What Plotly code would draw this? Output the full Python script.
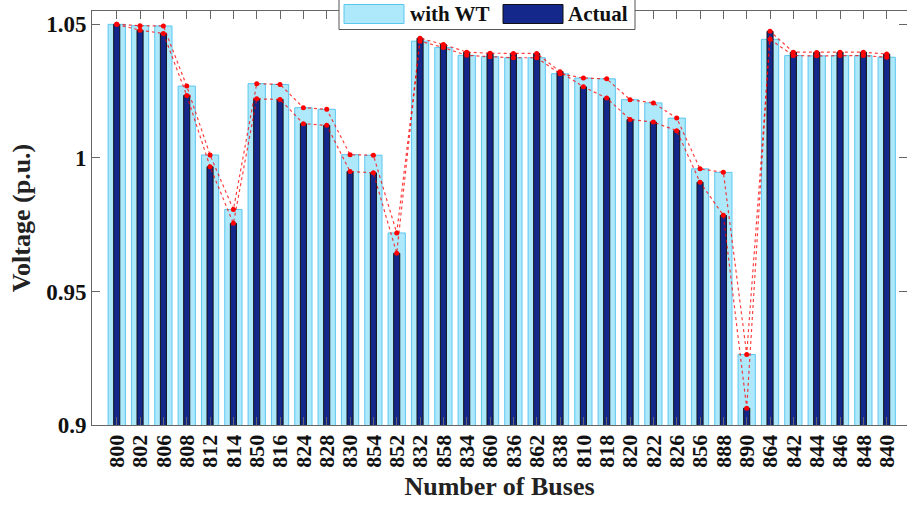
import plotly.graph_objects as go

# IEEE 34-bus feeder: bus voltages (p.u.) with and without the wind turbine
buses = ['800', '802', '806', '808', '812', '814', '850', '816', '824', '828',
         '830', '854', '852', '832', '858', '834', '860', '836', '862', '838',
         '810', '818', '820', '822', '826', '856', '888', '890', '864', '842',
         '844', '846', '848', '840']

with_wt = [1.0500, 1.0495, 1.0494, 1.0269, 1.0011, 0.9807, 1.0278, 1.0275, 1.0188, 1.0182,
           1.0012, 1.0010, 0.9719, 1.0437, 1.0413, 1.0384, 1.0379, 1.0375, 1.0375, 1.0315,
           1.0299, 1.0296, 1.0218, 1.0206, 1.0149, 0.9959, 0.9946, 0.9264, 1.0444, 1.0383,
           1.0382, 1.0383, 1.0383, 1.0377]

actual = [1.0500, 1.0478, 1.0466, 1.0234, 0.9967, 0.9755, 1.0221, 1.0219, 1.0128, 1.0122,
          0.9949, 0.9944, 0.9643, 1.0448, 1.0425, 1.0396, 1.0392, 1.0391, 1.0391, 1.0323,
          1.0266, 1.0224, 1.0144, 1.0134, 1.0102, 0.9909, 0.9785, 0.9063, 1.0474, 1.0396,
          1.0395, 1.0396, 1.0396, 1.0389]

series_names = ['with WT', 'Actual']
y_ticks = [0.9, 0.95, 1.0, 1.05]
y_tick_text = ['0.9', '0.95', '1', '1.05']

LIGHT = '#aee9fb'
LIGHT_EDGE = '#5cc6ef'
DARK = '#13288a'
SERIF = 'Liberation Serif, Times New Roman, serif'

W, H = 907, 512
L, R, T, B = 92, 0, 11, 87

fig = go.Figure()

fig.add_trace(go.Bar(x=buses, y=with_wt, name=series_names[0], width=0.74,
                     marker=dict(color=LIGHT, line=dict(color=LIGHT_EDGE, width=1)),
                     showlegend=False))
fig.add_trace(go.Bar(x=buses, y=actual, name=series_names[1], width=0.26,
                     marker=dict(color=DARK, line=dict(color='#111111', width=1)),
                     showlegend=False))

for vals in (with_wt, actual):
    fig.add_trace(go.Scatter(x=buses, y=vals, mode='lines+markers',
                             line=dict(color='rgba(255,0,0,0.75)', width=1.2, dash='dot'),
                             marker=dict(color='#ff0000', size=5),
                             showlegend=False, hoverinfo='skip'))

# pixel -> paper helpers for the legend box
pw, ph = W - L - R, H - T - B
def px(x):
    return (x - L) / pw
def py(y):
    return (H - B - y) / ph

shapes = [
    dict(type='rect', xref='paper', yref='paper', x0=px(339), x1=px(635), y0=py(29.5), y1=py(-6),
         fillcolor='white', line=dict(color='#555555', width=1), layer='above'),
    dict(type='rect', xref='paper', yref='paper', x0=px(344), x1=px(404), y0=py(23.5), y1=py(4.5),
         fillcolor=LIGHT, line=dict(color=LIGHT_EDGE, width=1), layer='above'),
    dict(type='rect', xref='paper', yref='paper', x0=px(503), x1=px(563), y0=py(23.5), y1=py(4.5),
         fillcolor=DARK, line=dict(color='#111111', width=1), layer='above'),
]
annotations = [
    dict(text=series_names[0], xref='paper', yref='paper', x=px(408), y=py(14), xanchor='left',
         yanchor='middle', showarrow=False,
         font=dict(family=SERIF, size=21, color='#111111', weight='bold')),
    dict(text=series_names[1], xref='paper', yref='paper', x=px(566), y=py(14), xanchor='left',
         yanchor='middle', showarrow=False,
         font=dict(family=SERIF, size=21, color='#111111', weight='bold')),
]

fig.update_layout(
    width=W, height=H,
    margin=dict(l=L, r=R, t=T, b=B, pad=0),
    barmode='overlay',
    plot_bgcolor='white', paper_bgcolor='white',
    shapes=shapes, annotations=annotations,
    xaxis=dict(type='category', range=[-1.06, 33.87],
               tickmode='array', tickvals=buses, ticktext=buses,
               showline=True, linecolor='#666666', linewidth=1, mirror='ticks',
               ticks='inside', ticklen=8, tickcolor='#666666', tickangle=-90,
               tickfont=dict(family=SERIF, size=22, color='#111111', weight='bold'),
               showgrid=False, zeroline=False,
               title=dict(text='Number of Buses', standoff=10,
                          font=dict(family=SERIF, size=26, color='#222222', weight='bold'))),
    yaxis=dict(range=[0.9, 1.055], tickvals=y_ticks, ticktext=y_tick_text,
               showline=True, linecolor='#666666', linewidth=1, mirror='ticks',
               ticks='inside', ticklen=8, tickcolor='#666666',
               tickfont=dict(family=SERIF, size=23, color='#111111', weight='bold'),
               showgrid=False, zeroline=False,
               title=dict(text='Voltage (p.u.)', standoff=8,
                          font=dict(family=SERIF, size=26, color='#222222', weight='bold'))),
)

fig.write_html('out.html')
